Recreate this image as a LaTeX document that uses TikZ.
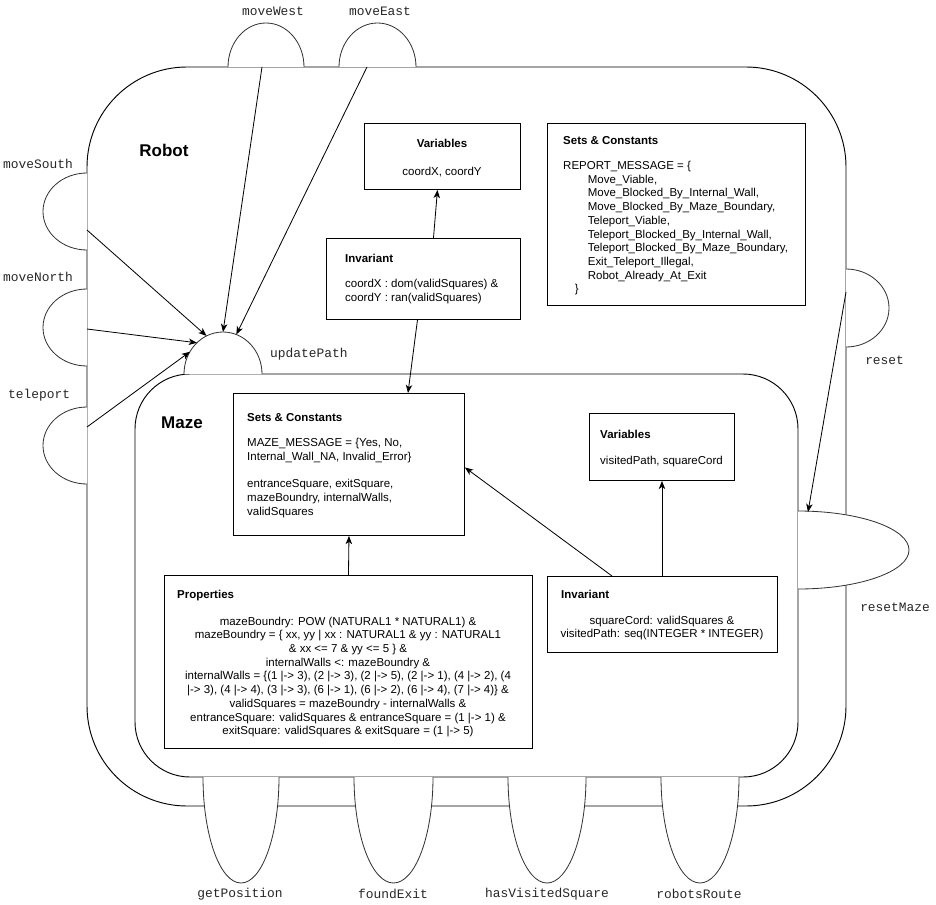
\documentclass[tikz,border=0pt]{standalone}
\usepackage{fontspec}
\setmainfont{Liberation Sans}
\setmonofont{Liberation Mono}
\usetikzlibrary{arrows.meta,calc}
\tikzset{
  shell/.style={draw=black, line width=0.8pt, rounded corners=#1},
  tab/.style={draw=black!80, fill=white, line width=0.7pt},
  box/.style={draw=black, line width=0.8pt, fill=white, inner sep=0pt, anchor=north west},
  ttl/.style={font=\bfseries\fontsize{9.8}{11.7}\selectfont, inner sep=0pt},
  body/.style={font=\fontsize{9.8}{11.7}\selectfont, inner sep=0pt, align=left},
  opname/.style={font=\ttfamily\fontsize{11}{13}\selectfont, inner sep=0pt, text=black!85},
  cname/.style={font=\bfseries\fontsize{14.5}{17}\selectfont, inner sep=0pt},
  link/.style={-{Stealth[length=7pt, width=5.5pt, inset=2pt]}, line width=0.7pt},
}
\newcommand{\panel}[5]{% name, x0, y0, x1, y1 (px)
  \node[box, minimum width={(#4-#2)*0.03cm}, minimum height={(#5-#3)*0.03cm}] (#1) at (#2,-#3) {};}
\newcommand{\intf}[5]{% base point, start angle, delta, x radius, y radius
  \draw[tab] #1 arc[start angle=#2, delta angle=#3, x radius=#4, y radius=#5];}

\begin{document}
\begin{tikzpicture}[x=0.03cm, y=0.03cm]
  \useasboundingbox (0,0) rectangle (936,-904);
  % the two components
  \draw[shell=3cm] (87,-67) rectangle (846,-806);
  \draw[shell=1.65cm, fill=white] (135,-374) rectangle (798,-777);
  \node[cname] (robot) at (164,-150) {Robot};
  \node[cname] (maze) at (182,-423) {Maze};

  % provided operations
  \intf{(228,-67)}{180}{-180}{38}{44}
  \intf{(339,-67)}{180}{-180}{38.5}{44}
  \intf{(87,-173)}{90}{180}{44}{38.5}
  \intf{(87,-289)}{90}{180}{44}{38.5}
  \intf{(87,-407)}{90}{180}{44}{38.5}
  \intf{(846,-269)}{90}{-180}{43}{39}
  \intf{(184,-374)}{180}{-180}{39}{42}
  \intf{(798,-511)}{90}{-180}{111}{39}
  \intf{(203,-777)}{180}{180}{38}{106}
  \intf{(354,-777)}{180}{180}{39.5}{106}
  \intf{(508,-777)}{180}{180}{39}{106}
  \intf{(661,-777)}{180}{180}{39}{106}
  \node[opname] (lWest) at (273,-11) {moveWest};
  \node[opname] (lEast) at (380,-11) {moveEast};
  \node[opname, anchor=west] (lSouth) at (3,-164) {moveSouth};
  \node[opname, anchor=west] (lNorth) at (3,-277) {moveNorth};
  \node[opname, anchor=west] (lTele) at (8,-395) {teleport};
  \node[opname, anchor=west] (lUpd) at (270,-354) {updatePath};
  \node[opname, anchor=west] (lRst) at (865,-360) {reset};
  \node[opname, anchor=west] (lRstM) at (860,-607) {resetMaze};
  \node[opname] (lPos) at (240,-894) {getPosition};
  \node[opname] (lExit) at (393,-894) {foundExit};
  \node[opname] (lVis) at (547,-894) {hasVisitedSquare};
  \node[opname] (lRoute) at (699,-894) {robotsRoute};

  % robot parts
  \panel{varR}{364}{123}{520}{189}
  \panel{setR}{547}{123}{805}{305}
  \panel{invR}{326}{238}{520}{319}
  \node[ttl] (varRt) at (442,-143) {Variables};
  \node[body] (varRb) at (442,-172) {coordX, coordY};
  \node[ttl, anchor=west] (setRt) at (563,-141) {Sets \& Constants};
  \node[body, anchor=north west] (setRb) at (563,-161) {REPORT\_MESSAGE = \{\\
    \hspace*{21pt}Move\_Viable,\\
    \hspace*{21pt}Move\_Blocked\_By\_Internal\_Wall,\\
    \hspace*{21pt}Move\_Blocked\_By\_Maze\_Boundary,\\
    \hspace*{21pt}Teleport\_Viable,\\
    \hspace*{21pt}Teleport\_Blocked\_By\_Internal\_Wall,\\
    \hspace*{21pt}Teleport\_Blocked\_By\_Maze\_Boundary,\\
    \hspace*{21pt}Exit\_Teleport\_Illegal,\\
    \hspace*{21pt}Robot\_Already\_At\_Exit\\
    \hspace*{10pt}\}};
  \node[ttl, anchor=west] (invRt) at (345,-258) {Invariant};
  \node[body, anchor=north west] (invRb) at (345,-279) {coordX : dom(validSquares) \&\\
    coordY : ran(validSquares)};

  % maze parts
  \panel{setM}{233}{393}{464}{535}
  \panel{varM}{589}{413}{734}{480}
  \panel{invM}{547}{576}{777}{652}
  \panel{props}{164}{575}{532}{748}
  \node[ttl, anchor=west] (setMt) at (247,-418) {Sets \& Constants};
  \node[body, anchor=north west] (setMb) at (247,-438) {MAZE\_MESSAGE = \{Yes, No,\\
    Internal\_Wall\_NA, Invalid\_Error\}\\[11.7pt]
    entranceSquare, exitSquare,\\
    mazeBoundry, internalWalls,\\
    validSquares};
  \node[ttl, anchor=west] (varMt) at (600,-434) {Variables};
  \node[body, anchor=west] (varMb) at (600,-462) {visitedPath, squareCord};
  \node[ttl, anchor=west] (invMt) at (561,-594) {Invariant};
  \node[body, align=center] (invMb) at (662,-628) {squareCord: validSquares \&\\
    visitedPath: seq(INTEGER * INTEGER)};
  \node[ttl, anchor=west] (propst) at (177,-596) {Properties};
  \node[body, align=center] (propsb) at (348,-677) {mazeBoundry: POW (NATURAL1 * NATURAL1) \&\\
    mazeBoundry = \{ xx, yy | xx : NATURAL1 \& yy : NATURAL1\\
    \& xx <= 7 \& yy <= 5 \} \&\\
    internalWalls <: mazeBoundry \&\\
    internalWalls = \{(1 |-> 3), (2 |-> 3), (2 |-> 5), (2 |-> 1), (4 |-> 2), (4\\
    |-> 3), (4 |-> 4), (3 |-> 3), (6 |-> 1), (6 |-> 2), (6 |-> 4), (7 |-> 4)\} \&\\
    validSquares = mazeBoundry - internalWalls \&\\
    entranceSquare: validSquares \& entranceSquare = (1 |-> 1) \&\\
    exitSquare: validSquares \& exitSquare = (1 |-> 5)};

  % connector ends
  \coordinate (mWest) at (262,-67);
  \coordinate (mEast) at (367,-67);
  \coordinate (mSouth) at (87,-230);
  \coordinate (mNorth) at (87,-329);
  \coordinate (tele) at (87,-427);
  \coordinate (rst) at (846,-292);
  \coordinate (rstM) at (808,-512);
  \coordinate (upd) at (223,-374);
  \coordinate (updW) at ($(upd)+(90:39 and 42)$);
  \coordinate (updE) at ($(upd)+(70:39 and 42)$);
  \coordinate (updS) at ($(upd)+(115:39 and 42)$);
  \coordinate (updN) at ($(upd)+(132:39 and 42)$);
  \coordinate (updT) at ($(upd)+(148:39 and 42)$);

  \foreach \a/\b in {mWest/updW, mEast/updE, mSouth/updS, mNorth/updN, tele/updT, rst/rstM}
    \draw[link] (\a) -- (\b);
  \draw[link] ($(invR.north)+(10,0)$) -- ($(varR.south)+(-5,0)$);
  \draw[link] ($(invR.south)+(-6,0)$) -- ($(setM.north)+(59,0)$);
  \draw[link] (props.north) -- (setM.south);
  \draw[link] ($(invM.north west)+(65,0)$) -- ($(setM.east)+(0,-3)$);
  \draw[link] (varM.south |- invM.north) -- (varM.south);
\end{tikzpicture}
\end{document}
